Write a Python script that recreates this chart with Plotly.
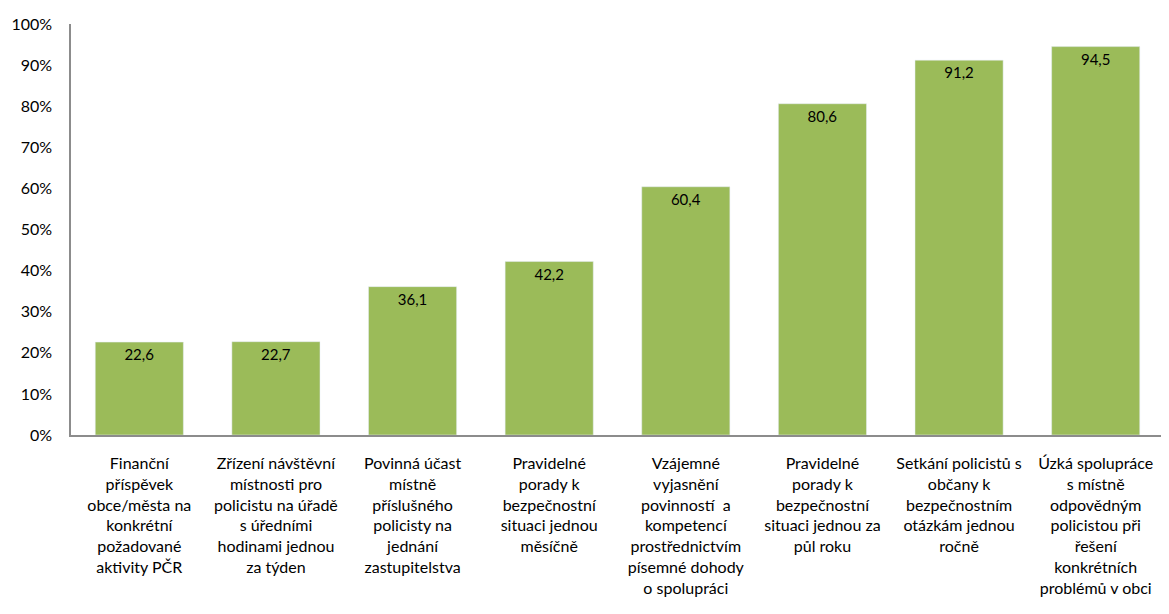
import plotly.graph_objects as go

kategorie = [
    "Finanční<br>příspěvek<br>obce/města na<br>konkrétní<br>požadované<br>aktivity PČR",
    "Zřízení návštěvní<br>místnosti pro<br>policistu na úřadě<br>s úředními<br>hodinami jednou<br>za týden",
    "Povinná účast<br>místně<br>příslušného<br>policisty na<br>jednání<br>zastupitelstva",
    "Pravidelné<br>porady k<br>bezpečnostní<br>situaci jednou<br>měsíčně",
    "Vzájemné<br>vyjasnění<br>povinností  a<br>kompetencí<br>prostřednictvím<br>písemné dohody<br>o spolupráci",
    "Pravidelné<br>porady k<br>bezpečnostní<br>situaci jednou za<br>půl roku",
    "Setkání policistů s<br>občany k<br>bezpečnostním<br>otázkám jednou<br>ročně",
    "Úzká spolupráce<br>s místně<br>odpovědným<br>policistou při<br>řešení<br>konkrétních<br>problémů v obci",
]
hodnoty = [22.6, 22.7, 36.1, 42.2, 60.4, 80.6, 91.2, 94.5]
y_ticks = list(range(0, 101, 10))

fig = go.Figure()
fig.add_trace(go.Bar(
    x=list(range(len(kategorie))),
    y=hodnoty,
    marker=dict(color="#9BBB59"),
    text=[f"{v:.1f}".replace(".", ",") for v in hodnoty],
    textposition="inside",
    insidetextanchor="end",
    textangle=0,
    textfont=dict(color="#000000", size=15, family="Lato"),
    cliponaxis=False,
))

# stránka má výchozí okraj body 8 px, proto menší okraje vlevo a nahoře
fig.update_layout(
    width=1169,
    height=614,
    margin=dict(l=63, r=13, t=16, b=187),
    plot_bgcolor="white",
    paper_bgcolor="white",
    bargap=0.355,
    showlegend=False,
    font=dict(family="Lato", size=16, color="#000000"),
)
fig.update_xaxes(
    tickmode="array",
    tickvals=list(range(len(kategorie))),
    ticktext=kategorie,
    range=[-0.5, len(kategorie) - 0.5],
    showline=True,
    linecolor="#8c8c8c",
    linewidth=1.5,
    ticks="",
    tickangle=0,
    ticklabelstandoff=13,
    tickfont=dict(size=16, family="Lato"),
    showgrid=False,
    automargin=False,
)
fig.update_yaxes(
    range=[0, 100],
    tickvals=y_ticks,
    ticktext=[f"{t}%" for t in y_ticks],
    showline=True,
    linecolor="#8c8c8c",
    linewidth=1.5,
    showgrid=False,
    zeroline=False,
    ticks="",
    ticklabelstandoff=14,
    tickfont=dict(size=16, family="Lato"),
    automargin=False,
)

fig.write_html("out.html")
